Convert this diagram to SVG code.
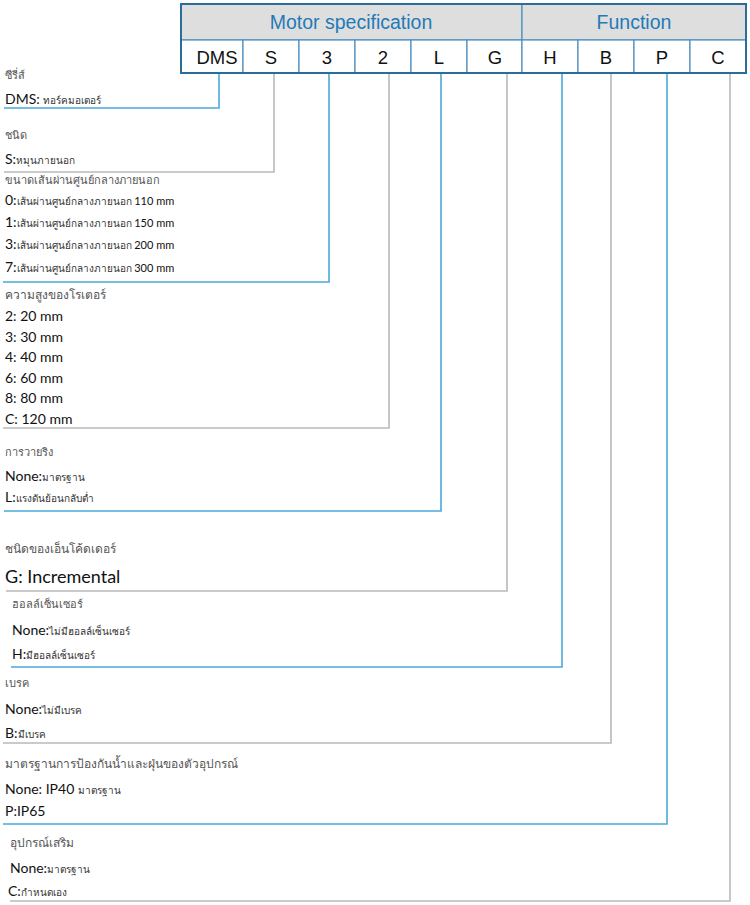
<svg xmlns="http://www.w3.org/2000/svg" width="750" height="905" viewBox="0 0 750 905">
<style>
.hdr{fill:#dedede;stroke:#4a8fbf;stroke-width:1.2}
.cell{fill:#ffffff;stroke:#4a8fbf;stroke-width:1.2}
.ht{font-family:"Liberation Sans",Arial,sans-serif;font-size:19.5px;fill:#1f7ab8;text-anchor:middle}
.ct{font-family:"Liberation Sans",Arial,sans-serif;font-size:18.5px;fill:#111;text-anchor:middle}
.lb{font-family:Lato,"Noto Sans","DejaVu Sans",sans-serif;font-size:11px;fill:#555}
.lbb{font-family:Lato,"Noto Sans","DejaVu Sans",sans-serif;font-size:12px;fill:#555}
.op{font-family:Lato,"Noto Sans","DejaVu Sans",sans-serif;font-size:14px;fill:#111}
.sm{font-size:10px;fill:#333}
.big{font-family:Lato,"Noto Sans","DejaVu Sans",sans-serif;font-size:18px;fill:#111}
.cb{fill:none;stroke:#4aaad9;stroke-width:1.6}
.cg{fill:none;stroke:#b9b9b9;stroke-width:1.6}
</style>
<g id="table">
<g id="hdr-motor"><rect class="hdr" x="181" y="4" width="341" height="36"/><text class="ht" x="351" y="29">Motor specification</text></g>
<g id="hdr-function"><rect class="hdr" x="522" y="4" width="224" height="36"/><text class="ht" x="634" y="29">Function</text></g>
<g id="cell-DMS"><rect class="cell" x="181" y="40" width="62" height="33"/><text class="ct" x="217" y="64">DMS</text></g>
<g id="cell-S"><rect class="cell" x="243" y="40" width="56" height="33"/><text class="ct" x="271" y="64">S</text></g>
<g id="cell-3"><rect class="cell" x="299" y="40" width="56" height="33"/><text class="ct" x="327" y="64">3</text></g>
<g id="cell-2"><rect class="cell" x="355" y="40" width="56" height="33"/><text class="ct" x="383" y="64">2</text></g>
<g id="cell-L"><rect class="cell" x="411" y="40" width="56" height="33"/><text class="ct" x="439" y="64">L</text></g>
<g id="cell-G"><rect class="cell" x="467" y="40" width="55" height="33"/><text class="ct" x="495" y="64">G</text></g>
<g id="cell-H"><rect class="cell" x="522" y="40" width="56" height="33"/><text class="ct" x="550" y="64">H</text></g>
<g id="cell-B"><rect class="cell" x="578" y="40" width="56" height="33"/><text class="ct" x="606" y="64">B</text></g>
<g id="cell-P"><rect class="cell" x="634" y="40" width="56" height="33"/><text class="ct" x="662" y="64">P</text></g>
<g id="cell-C"><rect class="cell" x="690" y="40" width="56" height="33"/><text class="ct" x="718" y="64">C</text></g>
<rect x="181" y="4" width="565" height="69" fill="none" stroke="#2a6d98" stroke-width="2"/>
</g>
<g id="connectors">
<polyline class="cb" points="219,74 219,108 4,108"/>
<polyline class="cg" points="274,74 274,172 4,172"/>
<polyline class="cb" points="329,74 329,282 3,282"/>
<polyline class="cg" points="389,74 389,428 3,428"/>
<polyline class="cb" points="441,74 441,511 4,511"/>
<polyline class="cg" points="507,74 507,591 6,591"/>
<polyline class="cb" points="562,74 562,667 11,667"/>
<polyline class="cg" points="611,74 611,743 3,743"/>
<polyline class="cb" points="667,74 667,824 3,824"/>
<polyline class="cg" points="730,74 730,901 10,901"/>
</g>
<g id="legend-series">
<text class="lb" x="5" y="79">ซีรี่ส์</text>
<text class="op" x="5" y="104">DMS: <tspan class="sm">ทอร์คมอเตอร์</tspan></text>
</g>
<g id="legend-type">
<text class="lb" x="5" y="139">ชนิด</text>
<text class="op" x="5" y="164">S:<tspan class="sm">หมุนภายนอก</tspan></text>
</g>
<g id="legend-diameter">
<text class="lb" x="5" y="184" font-size="11.7">ขนาดเส้นผ่านศูนย์กลางภายนอก</text>
<text class="op" x="5" y="205">0:<tspan class="sm">เส้นผ่านศูนย์กลางภายนอก </tspan><tspan font-size="11">110 mm</tspan></text>
<text class="op" x="5" y="227">1:<tspan class="sm">เส้นผ่านศูนย์กลางภายนอก </tspan><tspan font-size="11">150 mm</tspan></text>
<text class="op" x="5" y="249">3:<tspan class="sm">เส้นผ่านศูนย์กลางภายนอก </tspan><tspan font-size="11">200 mm</tspan></text>
<text class="op" x="5" y="272">7:<tspan class="sm">เส้นผ่านศูนย์กลางภายนอก </tspan><tspan font-size="11">300 mm</tspan></text>
</g>
<g id="legend-height">
<text class="lbb" x="5" y="299">ความสูงของโรเตอร์</text>
<text class="op" x="5" y="321">2: 20 mm</text>
<text class="op" x="5" y="342">3: 30 mm</text>
<text class="op" x="5" y="362">4: 40 mm</text>
<text class="op" x="5" y="383">6: 60 mm</text>
<text class="op" x="5" y="403">8: 80 mm</text>
<text class="op" x="5" y="424">C: 120 mm</text>
</g>
<g id="legend-wiring">
<text class="lb" x="5" y="456">การวายริง</text>
<text class="op" x="5" y="481">None:<tspan class="sm">มาตรฐาน</tspan></text>
<text class="op" x="5" y="502">L:<tspan class="sm">แรงดันย้อนกลับต่ำ</tspan></text>
</g>
<g id="legend-encoder">
<text class="lbb" x="5" y="553">ชนิดของเอ็นโค้ดเดอร์</text>
<text class="big" x="5" y="583">G: Incremental</text>
</g>
<g id="legend-hall">
<text class="lb" x="12" y="608">ฮอลล์เซ็นเซอร์</text>
<text class="op" x="12" y="635">None:<tspan class="sm">ไม่มีฮอลล์เซ็นเซอร์</tspan></text>
<text class="op" x="12" y="659">H:<tspan class="sm">มีฮอลล์เซ็นเซอร์</tspan></text>
</g>
<g id="legend-brake">
<text class="lb" x="5" y="687">เบรค</text>
<text class="op" x="5" y="714">None:<tspan class="sm">ไม่มีเบรค</tspan></text>
<text class="op" x="5" y="738">B:<tspan class="sm">มีเบรค</tspan></text>
</g>
<g id="legend-ip">
<text class="lbb" x="5" y="768">มาตรฐานการป้องกันน้ำและฝุ่นของตัวอุปกรณ์</text>
<text class="op" x="5" y="794">None: IP40 <tspan class="sm">มาตรฐาน</tspan></text>
<text class="op" x="5" y="816">P:IP65</text>
</g>
<g id="legend-accessory">
<text class="lbb" x="10" y="847">อุปกรณ์เสริม</text>
<text class="op" x="10" y="873">None:<tspan class="sm">มาตรฐาน</tspan></text>
<text class="op" x="8" y="896">C:<tspan class="sm">กำหนดเอง</tspan></text>
</g>
</svg>
